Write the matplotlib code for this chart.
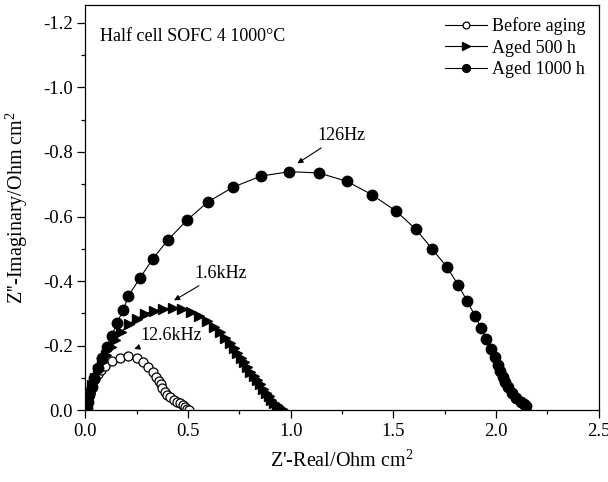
import matplotlib
matplotlib.use("Agg")
import matplotlib.pyplot as plt
from matplotlib.ticker import MultipleLocator, FormatStrFormatter

plt.rcParams['font.family'] = ['Liberation Serif', 'DejaVu Serif']
plt.rcParams['mathtext.fontset'] = 'custom'
plt.rcParams['mathtext.rm'] = 'Liberation Serif'

# Impedance spectra (Z' real, Z'' imaginary), Ohm cm^2
before_re = [0.003, 0.010, 0.020, 0.032, 0.046, 0.062, 0.078, 0.095, 0.128, 0.168,
             0.209, 0.249, 0.282, 0.306, 0.327, 0.344, 0.357, 0.366, 0.375, 0.386,
             0.399, 0.414, 0.430, 0.446, 0.461, 0.474, 0.485, 0.495, 0.503]
before_im = [-0.008, -0.030, -0.052, -0.075, -0.096, -0.113, -0.126, -0.136, -0.153, -0.163,
             -0.168, -0.161, -0.150, -0.135, -0.120, -0.104, -0.091, -0.080, -0.069, -0.058,
             -0.048, -0.040, -0.033, -0.027, -0.021, -0.015, -0.010, -0.005, -0.001]

aged500_re = [0.004, 0.012, 0.022, 0.034, 0.047, 0.062, 0.080, 0.100, 0.122, 0.145,
              0.175, 0.210, 0.250, 0.292, 0.336, 0.380, 0.425, 0.470, 0.512, 0.552,
              0.590, 0.625, 0.655, 0.680, 0.702, 0.722, 0.740, 0.757, 0.773, 0.789,
              0.804, 0.819, 0.834, 0.849, 0.864, 0.878, 0.892, 0.906, 0.920, 0.933,
              0.945, 0.956, 0.964]
aged500_im = [-0.010, -0.032, -0.055, -0.078, -0.100, -0.124, -0.148, -0.172, -0.196, -0.218,
              -0.243, -0.266, -0.284, -0.299, -0.309, -0.315, -0.317, -0.313, -0.304, -0.291,
              -0.276, -0.259, -0.241, -0.224, -0.208, -0.192, -0.177, -0.162, -0.148, -0.134,
              -0.120, -0.106, -0.093, -0.080, -0.067, -0.055, -0.044, -0.033, -0.023, -0.015,
              -0.009, -0.004, -0.001]

aged1000_re = [0.006, 0.012, 0.019, 0.030, 0.043, 0.059, 0.079, 0.103, 0.128, 0.152,
               0.184, 0.209, 0.266, 0.327, 0.402, 0.495, 0.596, 0.719, 0.854, 0.993,
               1.138, 1.274, 1.395, 1.515, 1.611, 1.690, 1.762, 1.817, 1.861, 1.898,
               1.927, 1.953, 1.976, 1.994, 2.009, 2.020, 2.033, 2.046, 2.060, 2.078,
               2.098, 2.121, 2.135, 2.147]
aged1000_im = [-0.006, -0.027, -0.047, -0.073, -0.099, -0.130, -0.161, -0.197, -0.230, -0.269,
               -0.310, -0.354, -0.410, -0.468, -0.528, -0.589, -0.645, -0.691, -0.725, -0.739,
               -0.735, -0.709, -0.668, -0.616, -0.560, -0.499, -0.443, -0.387, -0.337, -0.293,
               -0.254, -0.221, -0.191, -0.164, -0.140, -0.122, -0.104, -0.088, -0.071, -0.054,
               -0.039, -0.025, -0.018, -0.012]

series_labels = ["Before aging", "Aged 500 h", "Aged 1000 h"]
freq_labels = ["12.6kHz", "1.6kHz", "126Hz"]
title_text = "Half cell SOFC 4 1000\u00b0C"

fig = plt.figure(figsize=(6.08, 4.82), dpi=100)
ax = fig.add_axes([0.1406, 0.1488, 0.8438, 0.8414])

ax.plot(before_re, before_im, color='black', lw=0.8, marker='o', ms=6.5,
        mfc='white', mec='black', mew=0.9, label=series_labels[0])
ax.plot(aged500_re, aged500_im, color='black', lw=0.8, marker='>', ms=7.5,
        mfc='black', mec='black', label=series_labels[1])
ax.plot(aged1000_re, aged1000_im, color='black', lw=0.8, marker='o', ms=7.5,
        mfc='black', mec='black', label=series_labels[2])

ax.set_xlim(0.0, 2.5)
ax.set_ylim(0.0, -1.256)

ax.xaxis.set_major_locator(MultipleLocator(0.5))
ax.xaxis.set_minor_locator(MultipleLocator(0.25))
ax.yaxis.set_major_locator(MultipleLocator(0.2))
ax.yaxis.set_minor_locator(MultipleLocator(0.1))
ax.xaxis.set_major_formatter(FormatStrFormatter('%.1f'))
ax.yaxis.set_major_formatter(FormatStrFormatter('%.1f'))

ax.tick_params(which='major', direction='out', length=5.5, width=0.9, labelsize=13.5)
ax.tick_params(which='minor', direction='out', length=3, width=0.9)
for s in ax.spines.values():
    s.set_linewidth(0.9)

ax.set_xlabel("Z'-Real/Ohm cm$^2$", fontsize=14.5)
ax.set_ylabel("Z''-Imaginary/Ohm cm$^2$", fontsize=14.5)
ax.xaxis.set_label_coords(0.5, -0.098)
ax.yaxis.set_label_coords(-0.108, 0.5)

ax.text(0.07, -1.157, title_text, fontsize=13, va='center', ha='left')

arrow = dict(arrowstyle='-|>', color='black', lw=0.8, mutation_scale=8)
ax.annotate(freq_labels[0], xy=(0.225, -0.187), xytext=(0.27, -0.233),
            fontsize=13, va='center', ha='left', arrowprops=arrow)
ax.annotate(freq_labels[1], xy=(0.42, -0.336), xytext=(0.53, -0.425),
            fontsize=13, va='center', ha='left', arrowprops=arrow)
ax.annotate(freq_labels[2], xy=(1.021, -0.76), xytext=(1.128, -0.852),
            fontsize=13, va='center', ha='left', arrowprops=arrow)

ax.legend(loc='upper right', frameon=False, fontsize=13, handlelength=2.3,
          handletextpad=0.3, labelspacing=0.25, borderaxespad=0.3, markerscale=0.75)

fig.savefig("out.png", dpi=100)
